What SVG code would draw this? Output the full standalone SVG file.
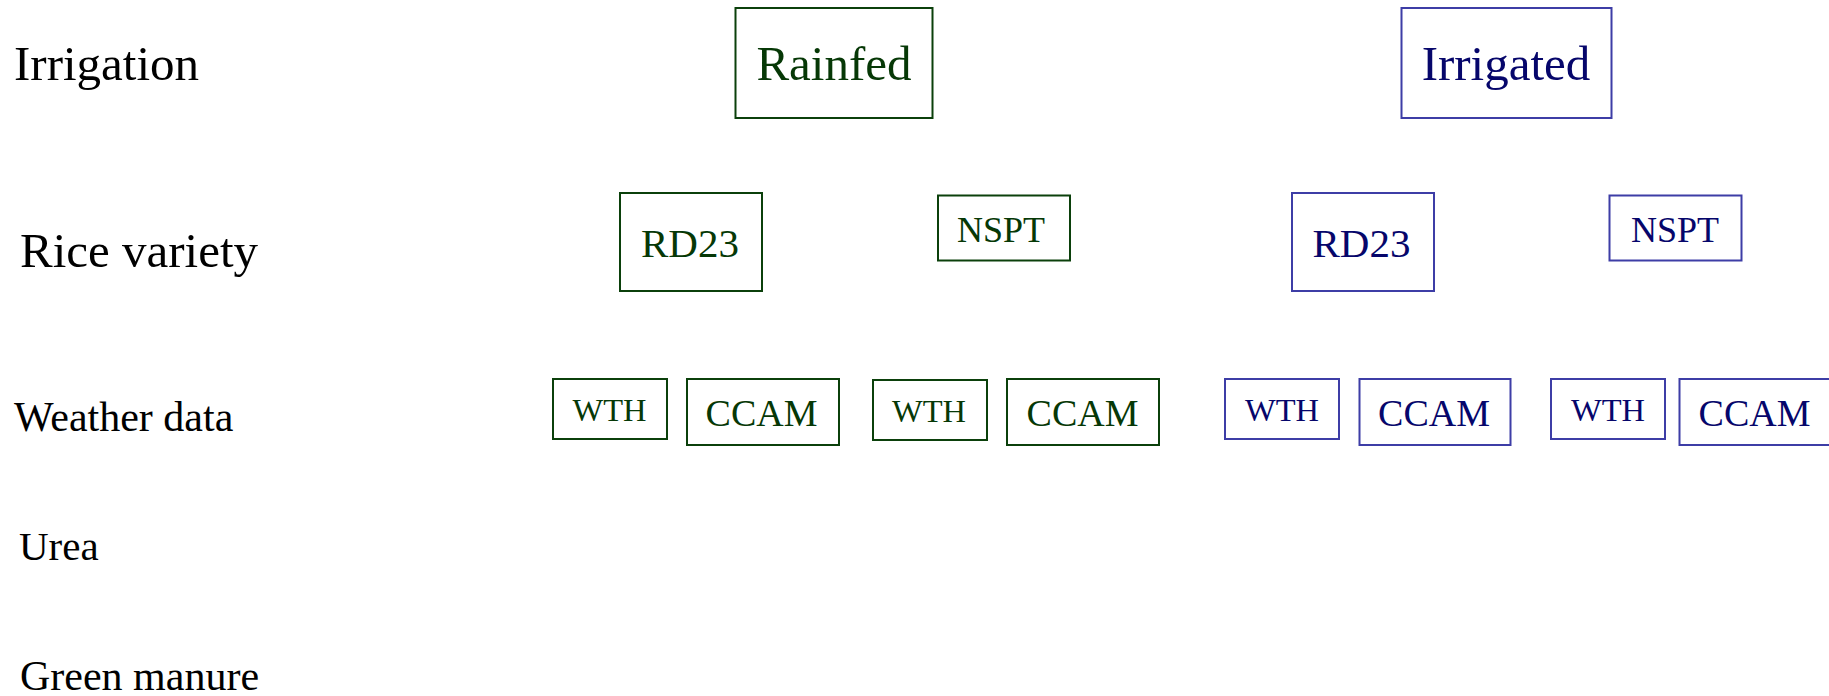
<svg xmlns="http://www.w3.org/2000/svg" width="1829" height="696" viewBox="0 0 1829 696">
  <style>
    text { font-family: "Liberation Serif", "Times New Roman", serif; }
    .row { fill: #000000; }
    .box { fill: #ffffff; stroke-width: 2; }
    .g .box { stroke: #0b400b; }
    .g text { fill: #063806; text-anchor: middle; }
    .b .box { stroke: #3d3da6; }
    .b text { fill: #06066b; text-anchor: middle; }
    .big { font-size: 49px; }
    .mid { font-size: 41px; }
    .nspt { font-size: 36px; }
    .wth { font-size: 32.5px; }
    .ccam { font-size: 38px; }
  </style>
  <rect width="1829" height="696" fill="#ffffff"/>

  <!-- Row labels -->
  <g id="row-labels">
    <text class="row" x="14" y="80" font-size="49">Irrigation</text>
    <text class="row" x="20" y="266.5" font-size="49">Rice variety</text>
    <text class="row" x="14" y="430.5" font-size="42">Weather data</text>
    <text class="row" x="19" y="560" font-size="41">Urea</text>
    <text class="row" x="20" y="690" font-size="42">Green manure</text>
  </g>

  <g id="connectors"/>

  <!-- Irrigation level -->
  <g id="rainfed" class="g">
    <rect class="box" x="735.5" y="8" width="197" height="110"/>
    <text class="big" x="834" y="80">Rainfed</text>
  </g>
  <g id="irrigated" class="b">
    <rect class="box" x="1401.5" y="8" width="210" height="110"/>
    <text class="big" x="1506" y="80">Irrigated</text>
  </g>

  <!-- Rice variety level -->
  <g id="rainfed-rd23" class="g">
    <rect class="box" x="620" y="193" width="142" height="98"/>
    <text class="mid" x="690" y="256.5">RD23</text>
  </g>
  <g id="rainfed-nspt" class="g">
    <rect class="box" x="938" y="195.5" width="132" height="65"/>
    <text class="nspt" x="1001" y="241.5">NSPT</text>
  </g>
  <g id="irrigated-rd23" class="b">
    <rect class="box" x="1292" y="193" width="142" height="98"/>
    <text class="mid" x="1361.5" y="256.5">RD23</text>
  </g>
  <g id="irrigated-nspt" class="b">
    <rect class="box" x="1609.5" y="195.5" width="132" height="65"/>
    <text class="nspt" x="1675" y="241.5">NSPT</text>
  </g>

  <!-- Weather data level -->
  <g id="rainfed-rd23-wth" class="g">
    <rect class="box" x="553" y="379" width="114" height="60"/>
    <text class="wth" x="609.5" y="421">WTH</text>
  </g>
  <g id="rainfed-rd23-ccam" class="g">
    <rect class="box" x="687" y="379" width="152" height="66"/>
    <text class="ccam" x="761.5" y="425.5">CCAM</text>
  </g>
  <g id="rainfed-nspt-wth" class="g">
    <rect class="box" x="873" y="380" width="114" height="60"/>
    <text class="wth" x="929" y="421.5">WTH</text>
  </g>
  <g id="rainfed-nspt-ccam" class="g">
    <rect class="box" x="1007" y="379" width="152" height="66"/>
    <text class="ccam" x="1082.5" y="425.5">CCAM</text>
  </g>
  <g id="irrigated-rd23-wth" class="b">
    <rect class="box" x="1225" y="379" width="114" height="60"/>
    <text class="wth" x="1282" y="421">WTH</text>
  </g>
  <g id="irrigated-rd23-ccam" class="b">
    <rect class="box" x="1359.5" y="379" width="151" height="66"/>
    <text class="ccam" x="1434" y="425.5">CCAM</text>
  </g>
  <g id="irrigated-nspt-wth" class="b">
    <rect class="box" x="1551" y="379" width="114" height="60"/>
    <text class="wth" x="1608" y="421">WTH</text>
  </g>
  <g id="irrigated-nspt-ccam" class="b">
    <rect class="box" x="1679.5" y="379" width="152" height="66"/>
    <text class="ccam" x="1754.5" y="425.5">CCAM</text>
  </g>
</svg>
